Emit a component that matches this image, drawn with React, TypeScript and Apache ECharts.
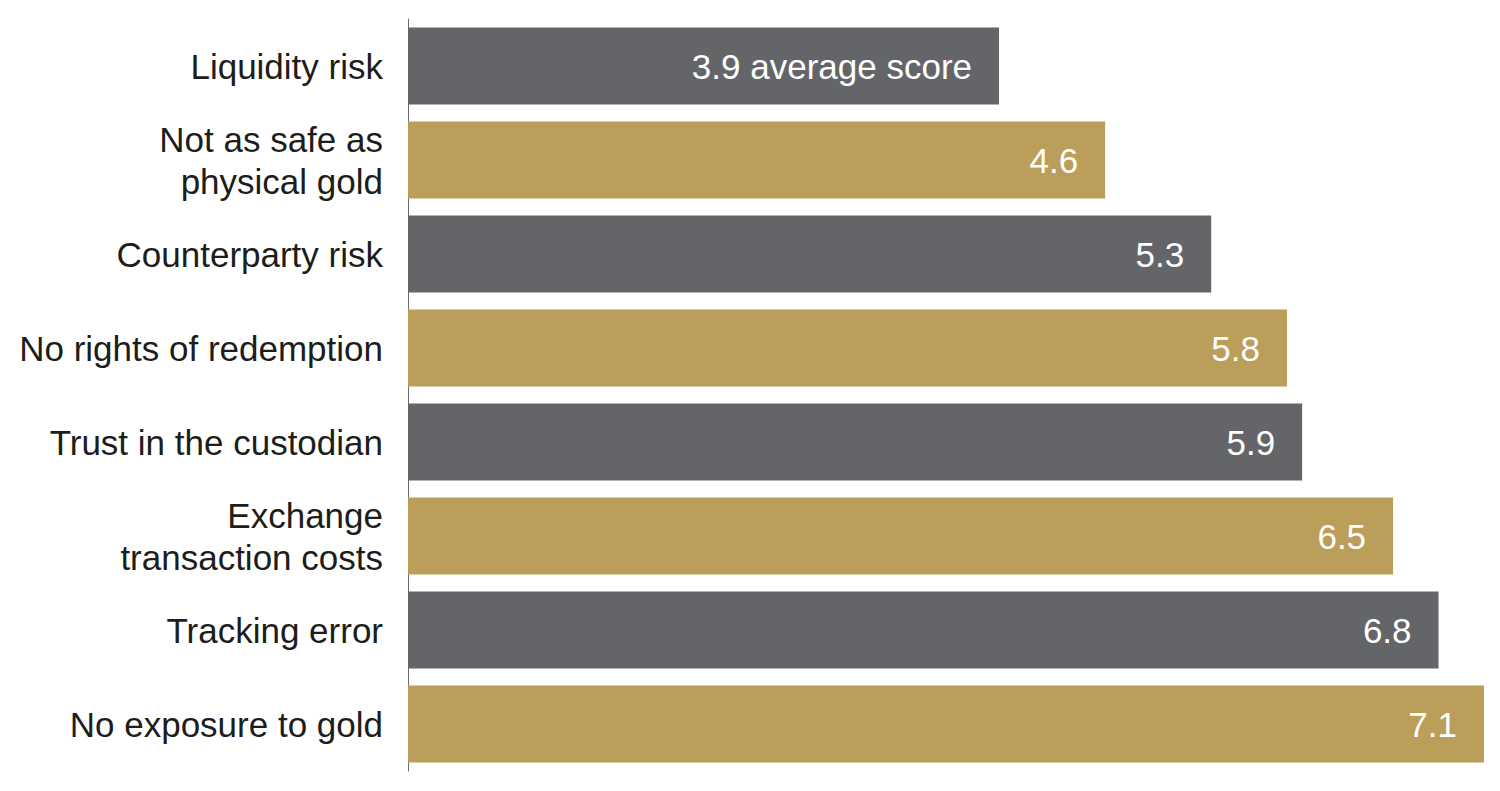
import React, { useEffect, useRef } from "react";
import * as echarts from "echarts";

const categories = [
  "Liquidity risk",
  "Not as safe as\nphysical gold",
  "Counterparty risk",
  "No rights of redemption",
  "Trust in the custodian",
  "Exchange\ntransaction costs",
  "Tracking error",
  "No exposure to gold",
];
const scores = [3.9, 4.6, 5.3, 5.8, 5.9, 6.5, 6.8, 7.1];
const barColors = ["#646569", "#BB9E59"];

export default function App() {
  const ref = useRef<HTMLDivElement>(null);
  useEffect(() => {
    document.body.style.margin = "0";
    const chart = echarts.init(ref.current!, null, { renderer: "svg" });
    chart.setOption({
      animation: false,
      grid: { left: 408, right: 16, top: 19, bottom: 20, containLabel: false },
      xAxis: {
        type: "value",
        min: 0,
        max: 7.1,
        show: false,
      },
      yAxis: {
        type: "category",
        data: categories,
        inverse: true,
        axisLine: { show: true, lineStyle: { color: "#6b6b6b", width: 1 } },
        axisTick: { show: false },
        axisLabel: {
          color: "#1d1d1b",
          fontSize: 35,
          fontFamily: "'Liberation Sans', Arial, sans-serif",
          margin: 25,
          lineHeight: 42,
          align: "right",
        },
      },
      series: [
        {
          type: "bar",
          barCategoryGap: "18%",
          data: scores.map((v, i) => ({
            value: v,
            itemStyle: { color: barColors[i % 2] },
          })),
          label: {
            show: true,
            position: "insideRight",
            distance: 27,
            color: "#ffffff",
            fontSize: 35,
            fontFamily: "'Liberation Sans', Arial, sans-serif",
            formatter: (p: any) =>
              p.dataIndex === 0 ? `${p.value} average score` : `${p.value}`,
          },
        },
      ],
    });
    return () => chart.dispose();
  }, []);
  return (
    <div
      ref={ref}
      style={{ position: "absolute", left: 0, top: 0, width: 1500, height: 791, background: "#fff" }}
    />
  );
}
